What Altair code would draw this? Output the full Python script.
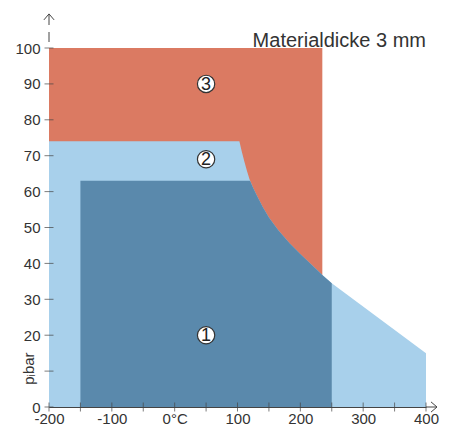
import altair as alt
import pandas as pd

# envelope (outer boundary of the light-blue region)
env_x = [-200, 103, 107, 111, 115, 119, 125, 132, 140, 150, 165, 183, 200, 218, 235, 250, 400]
env_y = [74, 74, 71.0, 68.3, 65.8, 63.5, 61.0, 58.5, 55.8, 52.8, 49.2, 45.6, 42.6, 39.6, 36.8, 34.5, 15]

# dark-blue region (1)
dark_x = [-150, 120, 125, 132, 140, 150, 165, 183, 200, 218, 235, 250]
dark_y = [63, 63, 61.0, 58.5, 55.8, 52.8, 49.2, 45.6, 42.6, 39.6, 36.8, 34.5]

# orange region (3) bounding box (below part is covered by region 2)
orange_x = [-200]
orange_x2 = [235]
orange_y = [0]
orange_y2 = [100]

# circled labels
label_text = ["1", "2", "3"]
label_x = [50, 50, 50]
label_y = [20, 69, 90]

x_ticks = list(range(-200, 401, 50))
y_ticks = list(range(0, 101, 10))

x_arrow_end = [417.5]
y_arrow_end = [109.5]

title_text = ["Materialdicke 3 mm"]
ytitle_text = ["p\u1d62bar"]

FONT = "Liberation Sans"
AX = "#444444"
TXT = "#333333"
C_ORANGE = "#DB7A62"
C_LIGHT = "#A8D0EB"
C_DARK = "#5A89AC"

xscale = alt.Scale(domain=[-200, 400], nice=False, zero=False)
yscale = alt.Scale(domain=[0, 100], nice=False, zero=False)

xaxis = alt.Axis(values=x_ticks, ticks=False, tickSize=0, grid=False, title=None,
                 labelExpr="datum.value === 0 ? '0°C' : (datum.value % 100 === 0 ? '' + datum.value : '')",
                 labelFont=FONT, labelFontSize=15, labelColor=TXT, labelPadding=4,
                 domainColor=AX, labelFlush=False, labelOverlap=False)
yaxis = alt.Axis(values=y_ticks, ticks=False, tickSize=0, grid=False, title=None,
                 labelExpr="datum.value === 10 ? '' : '' + datum.value",
                 labelFont=FONT, labelFontSize=15, labelColor=TXT, labelPadding=9,
                 domainColor=AX, labelOverlap=False)

def X(f):
    return alt.X(f, type="quantitative", scale=xscale, axis=xaxis)

def Y(f):
    return alt.Y(f, type="quantitative", scale=yscale, axis=yaxis)

env_df = pd.DataFrame({"x": env_x, "y": env_y})
dark_df = pd.DataFrame({"x": dark_x, "y": dark_y})
orange_df = pd.DataFrame({"x": orange_x, "x2": orange_x2, "y": orange_y, "y2": orange_y2})
lab_df = pd.DataFrame({"x": label_x, "y": label_y, "t": label_text})
xt_df = pd.DataFrame({"x": x_ticks})
yt_df = pd.DataFrame({"y": y_ticks})

orange = alt.Chart(orange_df).mark_rect(color=C_ORANGE).encode(
    x=X("x"), x2="x2", y=Y("y"), y2="y2")
light = alt.Chart(env_df).mark_area(color=C_LIGHT, interpolate="linear").encode(
    x=X("x"), y=Y("y"))
dark = alt.Chart(dark_df).mark_area(color=C_DARK, interpolate="linear").encode(
    x=X("x"), y=Y("y"))

xt = alt.Chart(xt_df).mark_tick(orient="vertical", size=9, thickness=1, color=AX).encode(
    x=X("x"), y=alt.Y(datum=0, scale=yscale, axis=yaxis))
yt = alt.Chart(yt_df).mark_tick(orient="horizontal", size=9, thickness=1, color=AX).encode(
    y=Y("y"), x=alt.X(datum=-200, scale=xscale, axis=xaxis))

xr = alt.Chart().mark_rule(color=AX, strokeWidth=1).encode(
    x=alt.X(datum=400, scale=xscale, axis=xaxis), x2=alt.datum(x_arrow_end[0]),
    y=alt.Y(datum=0, scale=yscale, axis=yaxis))
yr = alt.Chart().mark_rule(color=AX, strokeWidth=1, strokeDash=[10, 7], strokeDashOffset=11).encode(
    x=alt.X(datum=-200, scale=xscale, axis=xaxis),
    y=alt.Y(datum=100, scale=yscale, axis=yaxis), y2=alt.datum(y_arrow_end[0]))

xa = alt.Chart().mark_point(shape="M-1,-0.85L0,0L-1,0.85", filled=False, size=144,
                            strokeWidth=1, color=AX, opacity=1).encode(
    x=alt.X(datum=x_arrow_end[0], scale=xscale, axis=xaxis),
    y=alt.Y(datum=0, scale=yscale, axis=yaxis))
ya = alt.Chart().mark_point(shape="M-0.85,1L0,0L0.85,1", filled=False, size=144,
                            strokeWidth=1, color=AX, opacity=1).encode(
    x=alt.X(datum=-200, scale=xscale, axis=xaxis),
    y=alt.Y(datum=y_arrow_end[0], scale=yscale, axis=yaxis))

circ = alt.Chart(lab_df).mark_point(shape="circle", filled=True, size=300, fill="white",
                                    stroke="#333333", strokeWidth=1.2, opacity=1).encode(
    x=X("x"), y=Y("y"))
ctext = alt.Chart(lab_df).mark_text(font=FONT, fontSize=18, color="#222222",
                                    baseline="middle", align="center", dy=1).encode(
    x=X("x"), y=Y("y"), text="t:N")

title = alt.Chart().mark_text(font=FONT, fontSize=20, color=TXT, align="right",
                              baseline="alphabetic", dy=-1).encode(
    x=alt.X(datum=400, scale=xscale, axis=xaxis),
    y=alt.Y(datum=100, scale=yscale, axis=yaxis),
    text=alt.value(title_text[0]))

ytitle = alt.Chart().mark_text(font=FONT, fontSize=15, color=TXT, align="center",
                               baseline="alphabetic", angle=270, dy=-15).encode(
    x=alt.X(datum=-200, scale=xscale, axis=xaxis),
    y=alt.Y(datum=10.7, scale=yscale, axis=yaxis),
    text=alt.value(ytitle_text[0]))

chart = alt.layer(orange, light, dark, xt, yt, xr, yr, xa, ya, circ, ctext, title, ytitle).properties(
    width=377, height=359,
    autosize=alt.AutoSizeParams(type="none"),
    padding={"left": 41, "top": 40, "right": 22, "bottom": 19},
).configure_view(stroke=None)

chart.save("out.html", embed_options={"renderer": "svg", "actions": False})
